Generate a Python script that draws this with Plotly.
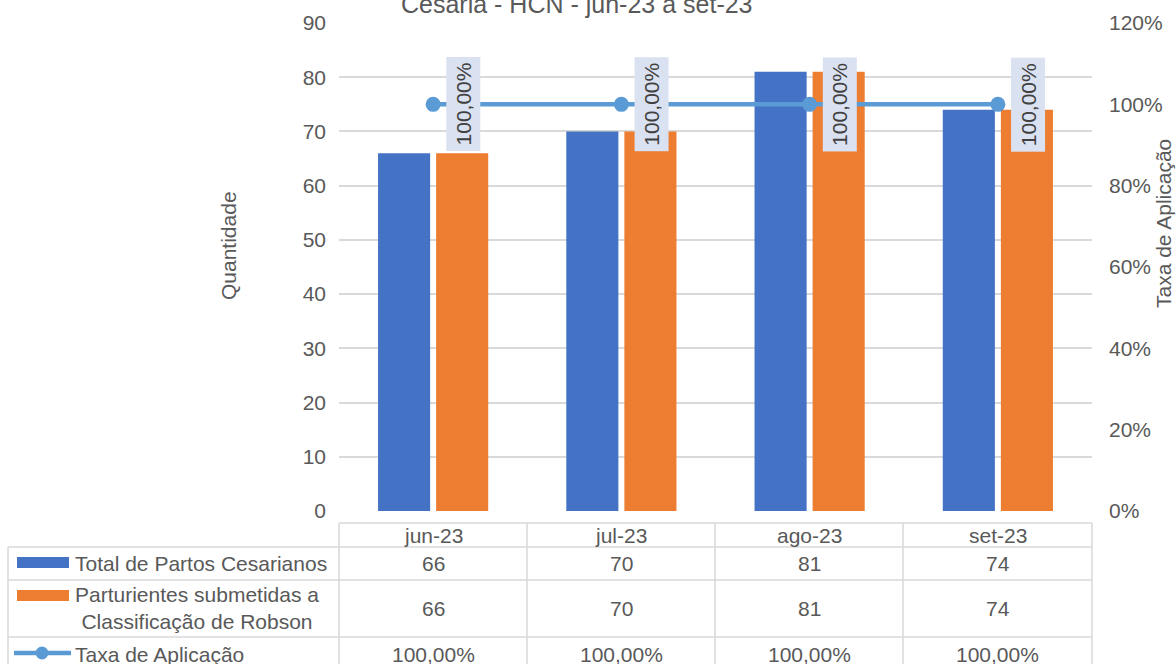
import plotly.graph_objects as go

# ---- data ----
categories = ["jun-23", "jul-23", "ago-23", "set-23"]
total_cesarianos = [66, 70, 81, 74]
parturientes_robson = [66, 70, 81, 74]
taxa_aplicacao = [1.0, 1.0, 1.0, 1.0]
taxa_labels = ["100,00%", "100,00%", "100,00%", "100,00%"]

series_names = ["Total de Partos Cesarianos",
                "Parturientes submetidas a<br>Classificação de Robson",
                "Taxa de Aplicação"]
title_text = "Cesaria - HCN - jun-23 a set-23"

# ---- style ----
W, H = 1176, 664
L, R, T, B = 339, 1092, 23, 511
FONT = "Arial, Liberation Sans, sans-serif"
TXT = "#595959"
GRID = "#D9D9D9"
BLUE = "#4472C4"
ORANGE = "#ED7D31"
LINEC = "#5B9BD5"
FS = 21


def px(x):
    return (x - L) / (R - L)


def py(y):
    return (B - y) / (B - T)


fig = go.Figure()
fig.add_trace(go.Bar(x=categories, y=total_cesarianos, name=series_names[0],
                     marker=dict(color=BLUE, line=dict(width=0))))
fig.add_trace(go.Bar(x=categories, y=parturientes_robson, name=series_names[1],
                     marker=dict(color=ORANGE, line=dict(width=0))))
fig.add_trace(go.Scatter(x=categories, y=taxa_aplicacao, name=series_names[2],
                         yaxis="y2", mode="lines+markers",
                         line=dict(color=LINEC, width=4.5),
                         marker=dict(color=LINEC, size=15)))

annotations = []
shapes = []

# data labels for the rate
for c, v, lab in zip(categories, taxa_aplicacao, taxa_labels):
    annotations.append(dict(x=c, y=v, xref="x", yref="y2", text=lab,
                            showarrow=False, textangle=-90, xshift=30,
                            bgcolor="#DAE1F0", borderpad=5,
                            font=dict(family=FONT, size=FS, color="#404040")))

# title (partially cut at top)
annotations.append(dict(x=px(577), y=py(4), xref="paper", yref="paper",
                        text=title_text, showarrow=False, xanchor="center",
                        yanchor="middle",
                        font=dict(family=FONT, size=25, color=TXT)))

# axis titles
annotations.append(dict(x=px(228), y=py(246), xref="paper", yref="paper",
                        text="Quantidade", showarrow=False, textangle=-90,
                        xanchor="center", yanchor="middle",
                        font=dict(family=FONT, size=FS, color=TXT)))
annotations.append(dict(x=px(1163), y=py(224), xref="paper", yref="paper",
                        text="Taxa de Aplicação", showarrow=False, textangle=-90,
                        xanchor="center", yanchor="middle",
                        font=dict(family=FONT, size=FS, color=TXT)))

# ---- data table ----
row_y = [535, 563, 608, 654]
table_rows = [
    [str(v) for v in total_cesarianos],
    [str(v) for v in parturientes_robson],
    taxa_labels,
]
for c in categories:
    annotations.append(dict(x=c, y=py(row_y[0]), xref="x", yref="paper",
                            text=c, showarrow=False, yanchor="middle",
                            font=dict(family=FONT, size=FS, color=TXT)))
for r, vals in enumerate(table_rows):
    for c, v in zip(categories, vals):
        annotations.append(dict(x=c, y=py(row_y[r + 1]), xref="x", yref="paper",
                                text=v, showarrow=False, yanchor="middle",
                                font=dict(family=FONT, size=FS, color=TXT)))
    annotations.append(dict(x=px(73), y=py(row_y[r + 1]), xref="paper", yref="paper",
                            text=series_names[r], showarrow=False,
                            xanchor="left", yanchor="middle", align="center",
                            font=dict(family=FONT, size=FS, color=TXT)))

# table grid
gl = dict(color=GRID, width=1.5)
for yy, x0 in [(523, 339), (547, 8), (580, 8), (637, 8)]:
    shapes.append(dict(type="line", xref="paper", yref="paper",
                       x0=px(x0), x1=px(1092), y0=py(yy), y1=py(yy), line=gl))
for xx in [339, 527, 715, 903, 1092]:
    shapes.append(dict(type="line", xref="paper", yref="paper",
                       x0=px(xx), x1=px(xx), y0=py(523), y1=py(670), line=gl))
shapes.append(dict(type="line", xref="paper", yref="paper",
                   x0=px(8), x1=px(8), y0=py(547), y1=py(670), line=gl))

# legend keys inside table
shapes.append(dict(type="rect", xref="paper", yref="paper",
                   x0=px(17), x1=px(69), y0=py(557), y1=py(568),
                   fillcolor=BLUE, line=dict(width=0)))
shapes.append(dict(type="rect", xref="paper", yref="paper",
                   x0=px(17), x1=px(69), y0=py(590), y1=py(601),
                   fillcolor=ORANGE, line=dict(width=0)))
shapes.append(dict(type="line", xref="paper", yref="paper",
                   x0=px(14), x1=px(71), y0=py(653), y1=py(653),
                   line=dict(color=LINEC, width=4.5)))
shapes.append(dict(type="circle", xref="paper", yref="paper",
                   x0=px(35.5), x1=px(48.5), y0=py(646.5), y1=py(659.5),
                   fillcolor=LINEC, line=dict(width=0)))

fig.update_layout(
    width=W, height=H,
    margin=dict(l=L, r=W - R, t=T, b=H - B, pad=0),
    paper_bgcolor="white", plot_bgcolor="white",
    showlegend=False,
    barmode="group", bargap=0.383, bargroupgap=0.103,
    font=dict(family=FONT, size=FS, color=TXT),
    xaxis=dict(showticklabels=False, showgrid=False, zeroline=False,
               showline=False, ticks=""),
    yaxis=dict(range=[0, 90], dtick=10, showgrid=True, gridcolor=GRID,
               gridwidth=1.5, zeroline=False, showline=False, ticks="",
               ticklabelstandoff=12,
               tickfont=dict(family=FONT, size=FS, color=TXT)),
    yaxis2=dict(range=[0, 1.2], dtick=0.2, tickformat=".0%", overlaying="y",
                side="right", showgrid=False, zeroline=False, showline=False,
                ticks="", ticklabelstandoff=16,
                tickfont=dict(family=FONT, size=FS, color=TXT)),
    annotations=annotations,
    shapes=shapes,
)

fig.write_html("out.html",
               config={"displayModeBar": False},
               post_script="document.body.style.margin='0';"
                           "document.body.style.overflow='hidden';")
